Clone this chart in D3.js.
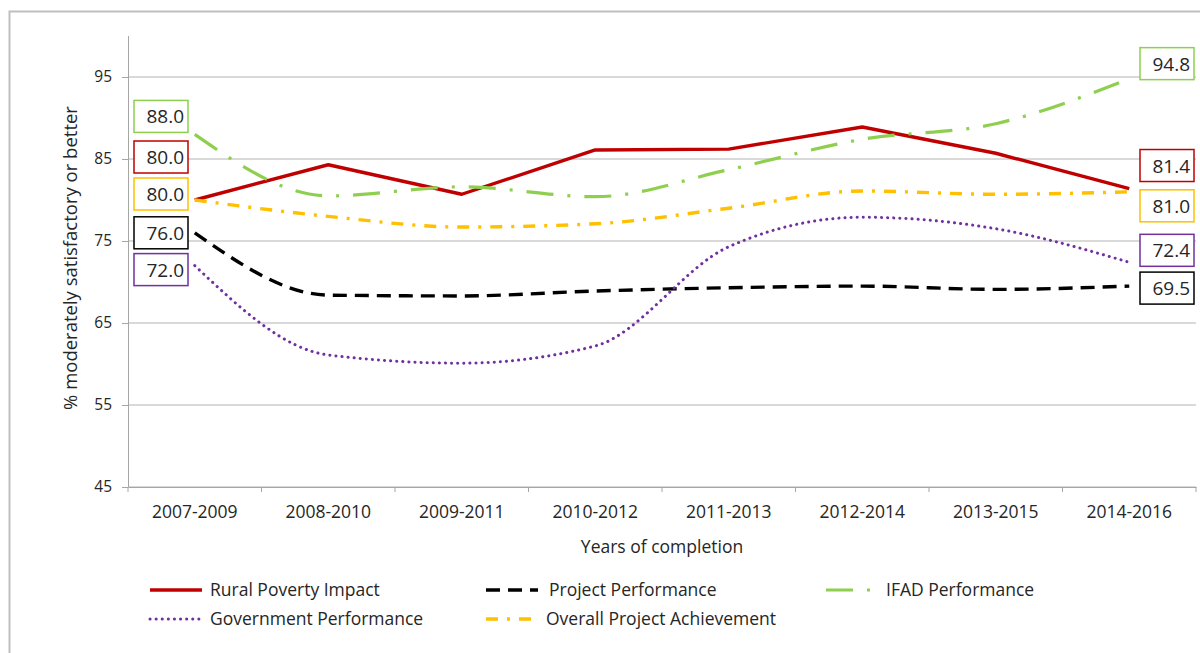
<!DOCTYPE html>
<html>
<head>
<meta charset="utf-8">
<script src="https://cdn.jsdelivr.net/npm/d3@7"></script>
<style>
  body { margin: 0; background: #fff; }
  svg text { font-family: "Open Sans", sans-serif; fill: #262626; }
</style>
</head>
<body>
<div id="chart"></div>
<script>
var periods = ['2007-2009', '2008-2010', '2009-2011', '2010-2012', '2011-2013', '2012-2014', '2013-2015', '2014-2016'];
var yTicks = [45, 55, 65, 75, 85, 95];

var ruralPoverty = [80.0, 84.3, 80.7, 86.1, 86.2, 88.9, 85.7, 81.4];
var projectPerf = [76.0, 68.4, 68.3, 68.9, 69.3, 69.5, 69.1, 69.5];
var ifadPerf = [88.0, 80.5, 81.6, 80.4, 83.7, 87.4, 89.3, 94.8];
var govPerf = [72.0, 61.1, 60.1, 62.2, 74.3, 77.9, 76.5, 72.4];
var overallAch = [80.0, 78.0, 76.7, 77.1, 79.0, 81.1, 80.7, 81.0];

var seriesNames = ['Rural Poverty Impact', 'Project Performance', 'IFAD Performance', 'Government Performance', 'Overall Project Achievement'];

var width = 1200, height = 653;
var plotLeft = 128, plotRight = 1196, plotTop = 36, plotBottom = 487;

var svg = d3.select('#chart').append('svg')
  .attr('width', width).attr('height', height);

// outer frame
svg.append('rect')
  .attr('x', 9.5).attr('y', 11.5)
  .attr('width', 1200).attr('height', 660)
  .attr('fill', 'none').attr('stroke', '#bfbfbf').attr('stroke-width', 2);

var x = d3.scaleBand().domain(periods).range([plotLeft, plotRight]);
var y = d3.scaleLinear().domain([45, 100]).range([plotBottom, plotTop]);

var series = [
  {name: seriesNames[0], values: ruralPoverty, color: '#c00000', dash: null, w: 3.4, smooth: false, cap: 'butt'},
  {name: seriesNames[1], values: projectPerf, color: '#000000', dash: '14,8', w: 3.4, smooth: true, cap: 'butt'},
  {name: seriesNames[2], values: ifadPerf, color: '#8fcf4f', dash: '27,14,3,14', w: 3.2, smooth: true, cap: 'butt'},
  {name: seriesNames[3], values: govPerf, color: '#7030a0', dash: '0.1,6', w: 3, smooth: true, cap: 'round'},
  {name: seriesNames[4], values: overallAch, color: '#ffc000', dash: '12,9,3,9', w: 3.4, smooth: true, cap: 'butt'}
];

// gridlines
svg.append('g').selectAll('line').data(yTicks).enter().append('line')
  .attr('x1', plotLeft).attr('x2', plotRight)
  .attr('y1', function(d){ return y(d); }).attr('y2', function(d){ return y(d); })
  .attr('stroke', '#b3b3b3').attr('stroke-width', 1.2);

// y axis
var yAxis = svg.append('g')
  .attr('transform', 'translate(' + plotLeft + ',0)')
  .call(d3.axisLeft(y).tickValues(yTicks).tickSize(6).tickPadding(10));
yAxis.select('.domain').attr('stroke', '#a6a6a6').attr('d', 'M0.5,' + plotTop + 'V' + plotBottom);
yAxis.selectAll('.tick line').attr('stroke', '#a6a6a6');
yAxis.selectAll('text').style('font-size', '15.5px').attr('fill', '#333');

// x axis
var xAxis = svg.append('g')
  .attr('transform', 'translate(0,' + plotBottom + ')')
  .call(d3.axisBottom(x).tickSize(0).tickPadding(19));
xAxis.select('.domain').attr('stroke', '#a6a6a6');
xAxis.selectAll('text').style('font-size', '17.5px').attr('fill', '#333');
svg.append('g').selectAll('line').data(periods.concat(['end'])).enter().append('line')
  .attr('x1', function(d, i){ return plotLeft + i * x.step(); })
  .attr('x2', function(d, i){ return plotLeft + i * x.step(); })
  .attr('y1', plotBottom).attr('y2', plotBottom + 5)
  .attr('stroke', '#a6a6a6');

svg.append('text')
  .attr('x', (plotLeft + plotRight) / 2).attr('y', 553)
  .attr('text-anchor', 'middle')
  .style('font-size', '17.5px')
  .text('Years of completion');

svg.append('text')
  .attr('transform', 'translate(77,258) rotate(-90)')
  .attr('text-anchor', 'middle')
  .style('font-size', '18.5px')
  .text('% moderately satisfactory or better');

// lines
series.forEach(function(s){
  var line = d3.line()
    .x(function(d, i){ return x(periods[i]) + x.bandwidth() / 2; })
    .y(function(d){ return y(d); })
    .curve(s.smooth ? d3.curveMonotoneX : d3.curveLinear);
  svg.append('path')
    .datum(s.values)
    .attr('d', line)
    .attr('fill', 'none')
    .attr('stroke', s.color)
    .attr('stroke-width', s.w)
    .attr('stroke-linecap', s.cap)
    .attr('stroke-linejoin', 'round')
    .attr('stroke-dasharray', s.dash);
});

// value callouts (vertical nudge in px to avoid overlaps)
var startNudge = [-43, 0, -18, 4, -6];
var endNudge = [-23, 2, -15, -12, 14];

function callout(s, value, cx, dy){
  var cy = y(value) + dy;
  var g = svg.append('g');
  g.append('rect')
    .attr('x', cx - 27).attr('y', cy - 16)
    .attr('width', 54).attr('height', 32)
    .attr('fill', '#fff').attr('stroke', s.color).attr('stroke-width', 1.5);
  g.append('text')
    .attr('x', cx + 23).attr('y', cy + 7)
    .attr('text-anchor', 'end')
    .style('font-size', '19px')
    .text(value.toFixed(1));
}
series.forEach(function(s, i){
  callout(s, s.values[0], 161, startNudge[i]);
  callout(s, s.values[s.values.length - 1], 1167, endNudge[i]);
});

// legend
var legendPos = [
  {x: 150, y: 590}, {x: 486, y: 590}, {x: 826, y: 590},
  {x: 150, y: 619}, {x: 486, y: 619}
];
series.forEach(function(s, i){
  var p = legendPos[i];
  svg.append('line')
    .attr('x1', p.x).attr('x2', p.x + 52)
    .attr('y1', p.y).attr('y2', p.y)
    .attr('stroke', s.color)
    .attr('stroke-width', s.w)
    .attr('stroke-linecap', s.cap)
    .attr('stroke-dasharray', s.dash);
  svg.append('text')
    .attr('x', p.x + (i == 1 ? 63 : 60)).attr('y', p.y + 6)
    .style('font-size', '17.5px')
    .text(s.name);
});
</script>
</body>
</html>
